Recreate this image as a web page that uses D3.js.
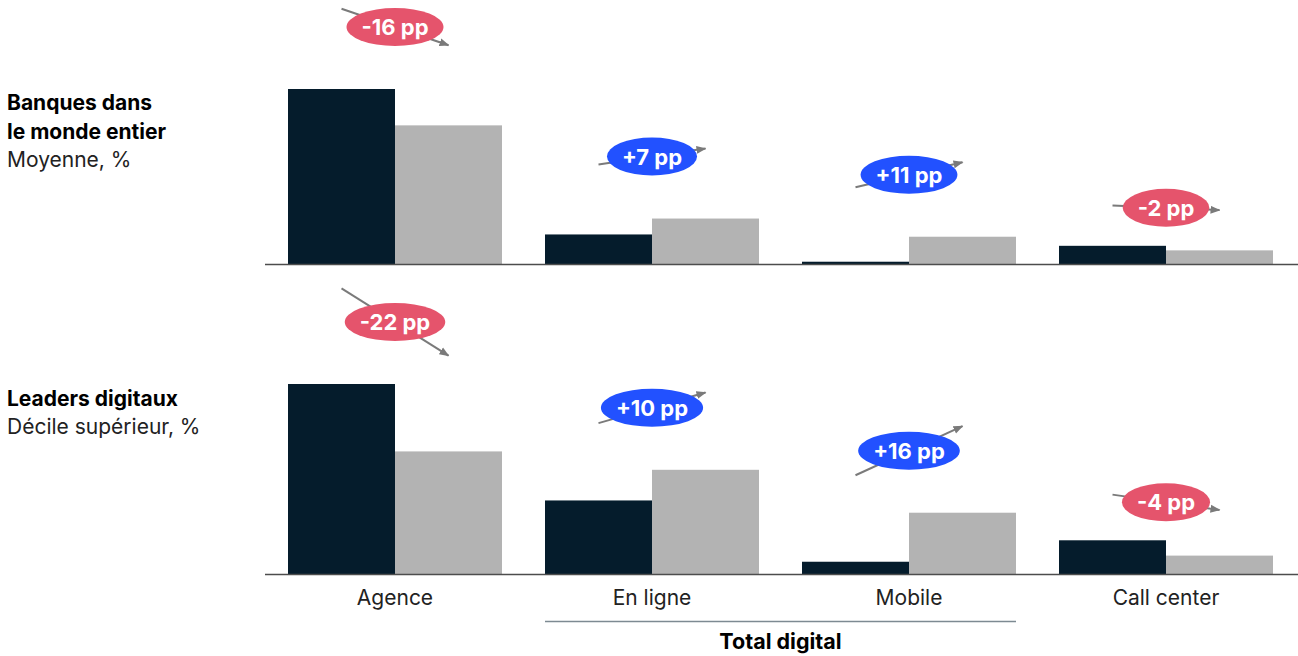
<!DOCTYPE html>
<html>
<head>
<meta charset="utf-8">
<script src="https://cdn.jsdelivr.net/npm/d3@7"></script>
<style>
  body { margin: 0; background: #fff; }
  svg text { font-family: Inter, "Liberation Sans", Arial, sans-serif; }
</style>
</head>
<body>
<div id="chart"></div>
<script>
// categories and values (share of transactions, %)
const categories = ['Agence', 'En ligne', 'Mobile', 'Call center'];
const banquesAvant = [77, 13, 1, 8];
const banquesApres = [61, 20, 12, 6];
const leadersAvant = [62, 24, 4, 11];
const leadersApres = [40, 34, 20, 6];
const banquesDelta = ['-16 pp', '+7 pp', '+11 pp', '-2 pp'];
const leadersDelta = ['-22 pp', '+10 pp', '+16 pp', '-4 pp'];

const colors = { dark: '#051c2c', grey: '#b3b3b3', up: '#2251ff', down: '#e5546c', arrow: '#7a7a7a' };

const width = 1298, height = 656;
const svg = d3.select('#chart').append('svg')
    .attr('width', width)
    .attr('height', height);

svg.append('defs').append('marker')
    .attr('id', 'head')
    .attr('viewBox', '0 0 10 10')
    .attr('refX', 9).attr('refY', 5)
    .attr('markerWidth', 10).attr('markerHeight', 10)
    .attr('markerUnits', 'userSpaceOnUse')
    .attr('orient', 'auto')
    .append('path')
    .attr('d', 'M0,1 L10,5 L0,9 Z')
    .attr('fill', colors.arrow);

const x = d3.scaleBand()
    .domain(categories)
    .range([266.5, 1294.5])
    .paddingInner(43 / 257)
    .paddingOuter(43 / 514);

const panels = [
    { before: banquesAvant, after: banquesApres, deltas: banquesDelta, base: 264, top: 89,
      title: ['Banques dans', 'le monde entier'], sub: 'Moyenne, %', ty: 110 },
    { before: leadersAvant, after: leadersApres, deltas: leadersDelta, base: 574, top: 384,
      title: ['Leaders digitaux'], sub: 'Décile supérieur, %', ty: 406 }
];

panels.forEach(p => {
    const y = d3.scaleLinear()
        .domain([0, d3.max(p.before.concat(p.after))])
        .range([p.base, p.top]);
    const bw = x.bandwidth() / 2;
    const g = svg.append('g');

    // left titles
    p.title.forEach((t, i) => {
        g.append('text').attr('x', 7).attr('y', p.ty + i * 29)
            .attr('font-size', 21).attr('font-weight', 'bold').attr('fill', '#000')
            .text(t);
    });
    g.append('text').attr('x', 7).attr('y', p.ty + p.title.length * 29 - 1)
        .attr('font-size', 21).attr('fill', '#222')
        .text(p.sub);

    const data = categories.map((c, i) => ({ c, a: p.before[i], b: p.after[i], d: p.deltas[i], i }));

    g.selectAll('rect.dark').data(data).join('rect')
        .attr('x', d => x(d.c)).attr('width', bw)
        .attr('y', d => y(d.a)).attr('height', d => p.base - y(d.a))
        .attr('fill', colors.dark);
    g.selectAll('rect.grey').data(data).join(enter => enter.append('rect'))
        .attr('x', d => x(d.c) + bw).attr('width', bw)
        .attr('y', d => y(d.b)).attr('height', d => p.base - y(d.b))
        .attr('fill', colors.grey);

    g.append('line')
        .attr('x1', 265).attr('x2', 1298)
        .attr('y1', p.base + 0.5).attr('y2', p.base + 0.5)
        .attr('stroke', '#4d4d4d').attr('stroke-width', 1.5);

    // change arrows with pill labels
    data.forEach(d => {
        const lift = d.i === 3 ? 38 : 62;
        const yMid = Math.min(y(d.a), y(d.b)) - lift;
        const slope = y(d.b) - y(d.a);
        const x1 = x(d.c) + bw / 2, x2 = x(d.c) + bw * 1.5;
        const cx = (x1 + x2) / 2;
        const cy = yMid;
        g.append('line')
            .attr('x1', x1).attr('y1', cy - slope / 2)
            .attr('x2', x2).attr('y2', cy + slope / 2)
            .attr('stroke', colors.arrow).attr('stroke-width', 2)
            .attr('marker-end', 'url(#head)');
        const col = d.d.startsWith('+') ? colors.up : colors.down;
        const ell = g.append('ellipse').attr('cx', cx).attr('cy', cy).attr('ry', 19).attr('fill', col);
        const t = g.append('text').attr('x', cx).attr('y', cy + 8)
            .attr('text-anchor', 'middle').attr('font-size', 22).attr('font-weight', 'bold')
            .attr('fill', '#fff').text(d.d);
        ell.attr('rx', t.node().getComputedTextLength() / 2 + 15);
    });
});

// category labels
svg.selectAll('text.cat').data(categories).join('text')
    .attr('x', d => x(d) + x.bandwidth() / 2)
    .attr('y', 605)
    .attr('text-anchor', 'middle')
    .attr('font-size', 21).attr('fill', '#222')
    .text(d => d);

// Total digital bracket
const gx1 = x('En ligne'), gx2 = x('Mobile') + x.bandwidth();
svg.append('line')
    .attr('x1', gx1).attr('x2', gx2).attr('y1', 621.5).attr('y2', 621.5)
    .attr('stroke', '#7d8a92').attr('stroke-width', 1.5);
svg.append('text')
    .attr('x', (gx1 + gx2) / 2).attr('y', 649)
    .attr('text-anchor', 'middle').attr('font-size', 21.5).attr('font-weight', 'bold')
    .attr('fill', '#000').text('Total digital');
</script>
</body>
</html>
